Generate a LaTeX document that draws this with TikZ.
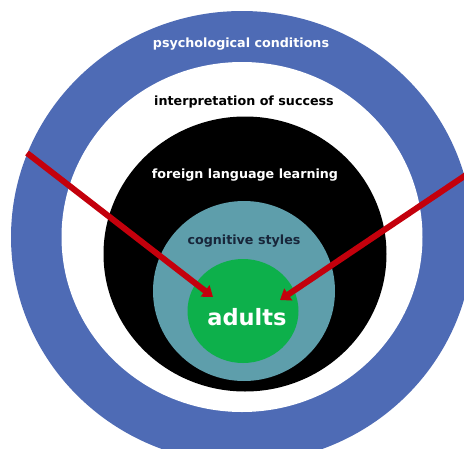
\documentclass[tikz,border=0pt]{standalone}
\usepackage{fontspec}
\setmainfont{DejaVu Sans}
\usetikzlibrary{shapes.geometric,arrows.meta}
\definecolor{ringblue}{HTML}{4E6BB5}
\definecolor{teal2}{HTML}{5E9EAB}
\definecolor{green2}{HTML}{0DB04B}
\definecolor{red2}{HTML}{C4000C}
\definecolor{navy2}{HTML}{18263A}
\tikzset{
  disc/.style={ellipse, inner sep=0pt, draw=none},
  lbl/.style={font=\bfseries\fontsize{12.7}{15}\selectfont, inner sep=0pt},
  redarrow/.style={draw=red2, line width=6pt, -{Triangle[length=10pt,width=14pt]}}
}
\begin{document}
\begin{tikzpicture}[x=1pt,y=-1pt]
\useasboundingbox[fill=white] (0,0) rectangle (464,448);
\node[disc, fill=ringblue, minimum width=462pt, minimum height=452pt] (outer) at (242,237) {};
\node[disc, fill=white, minimum width=361pt, minimum height=350pt] (inner) at (242,237) {};
\node[disc, fill=black, minimum width=283pt, minimum height=275pt] (black) at (245,254) {};
\node[disc, fill=teal2, minimum width=182pt, minimum height=180pt] (cog) at (244,291) {};
\node[disc, fill=green2, minimum width=111pt, minimum height=104pt] (core) at (243,311) {};
\node[lbl, text=white] (t1) at (241,44) {psychological conditions};
\node[lbl, text=black] (t2) at (244,102) {interpretation of success};
\node[lbl, text=white] (t3) at (245,175) {foreign language learning};
\node[lbl, text=navy2] (t4) at (244,241) {cognitive styles};
\node[font=\bfseries\fontsize{22.5}{26}\selectfont, text=white, inner sep=0pt] (t5) at (247,317) {adults};
\coordinate (s1) at (27,153);
\coordinate (e1) at (213,297);
\coordinate (s2) at (466,175);
\coordinate (e2) at (280,300);
\draw[redarrow] (s1) -- (e1);
\draw[redarrow] (s2) -- (e2);
\end{tikzpicture}
\end{document}
